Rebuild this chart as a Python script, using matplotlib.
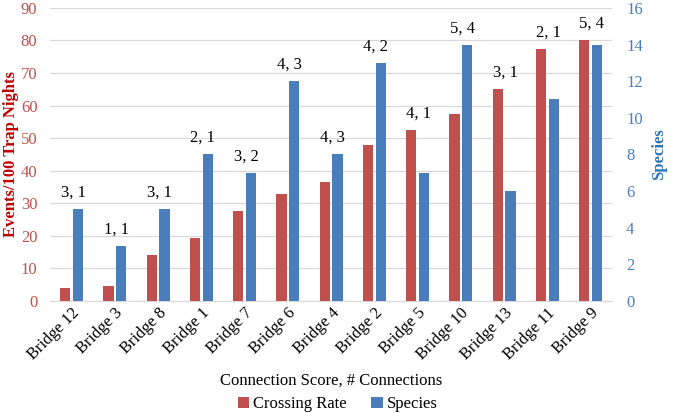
"""Crossing rate and species count per bridge, ordered by crossing rate."""
import matplotlib.pyplot as plt
import numpy as np

plt.rcParams["font.family"] = ["Liberation Serif", "DejaVu Serif"]

bridges = ["Bridge 12", "Bridge 3", "Bridge 8", "Bridge 1", "Bridge 7", "Bridge 6", "Bridge 4",
           "Bridge 2", "Bridge 5", "Bridge 10", "Bridge 13", "Bridge 11", "Bridge 9"]
crossing_rate = [4, 4.5, 14, 19.5, 27.5, 33, 36.5, 48, 52.5, 57.5, 65, 77.5, 80]
species = [5, 3, 5, 8, 7, 12, 8, 13, 7, 14, 6, 11, 14]
connection_labels = ["3, 1", "1, 1", "3, 1", "2, 1", "3, 2", "4, 3", "4, 3",
                     "4, 2", "4, 1", "5, 4", "3, 1", "2, 1", "5, 4"]

RED = "#C0504D"
BLUE = "#4A7EBB"
GRID = "#D9D9D9"
FS = 12

fig = plt.figure(figsize=(6.75, 4.13), dpi=100)
ax = fig.add_axes([0.074, 0.271, 0.833, 0.71])
ax2 = ax.twinx()

x = np.arange(len(bridges))
w = 0.235
off = 0.148
ax.bar(x - off, crossing_rate, w, color=RED, label="Crossing Rate", zorder=3)
ax2.bar(x + off, species, w, color=BLUE, label="Species", zorder=3)

ax.set_ylim(0, 90)
ax.set_yticks(range(0, 91, 10))
ax2.set_ylim(0, 16)
ax2.set_yticks(range(0, 17, 2))
ax.set_xlim(-0.5, len(bridges) - 0.5)

ax.grid(axis="y", color=GRID, linewidth=0.9, zorder=0)
ax.set_axisbelow(True)
for a in (ax, ax2):
    for s in a.spines.values():
        s.set_visible(False)
ax.spines["bottom"].set_visible(True)
ax.spines["bottom"].set_color(GRID)

ax.tick_params(axis="y", length=0, colors=RED, labelsize=FS, pad=9)
ax2.tick_params(axis="y", length=0, colors=BLUE, labelsize=FS, pad=10)
ax.tick_params(axis="x", length=0, labelsize=FS, pad=3)
ax.set_xticks(x)
ax.set_xticklabels(bridges, rotation=45, ha="right", rotation_mode="anchor")

ax.set_ylabel("Events/100 Trap Nights", color="#C00000", fontweight="bold", fontsize=FS, labelpad=1)
ax2.set_ylabel("Species", color="#2E75B6", fontweight="bold", fontsize=FS, labelpad=6)
ax.set_xlabel("Connection Score, # Connections", fontsize=FS, labelpad=7)

# connection labels above the taller bar in each group
for i, lab in enumerate(connection_labels):
    top = max(crossing_rate[i], species[i] * 90 / 16)
    ax.annotate(lab, (x[i], top), xytext=(1, 6), textcoords="offset points",
                ha="center", va="bottom", fontsize=FS)

h1, l1 = ax.get_legend_handles_labels()
h2, l2 = ax2.get_legend_handles_labels()
fig.legend(h1 + h2, l1 + l2, loc="lower center", bbox_to_anchor=(0.5, -0.035), ncol=2,
           frameon=False, fontsize=FS, handlelength=0.7, handleheight=0.7,
           handletextpad=0.2, columnspacing=1.5)

fig.savefig("out.png", dpi=100)
